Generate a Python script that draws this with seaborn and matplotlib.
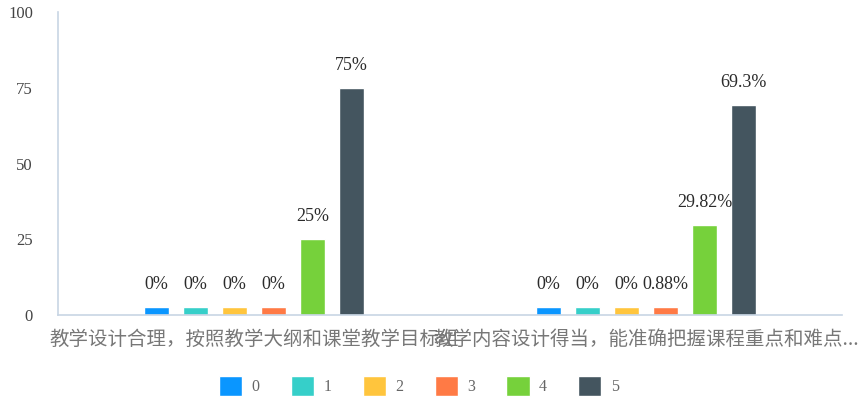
import numpy as np
import pandas as pd
import matplotlib
matplotlib.use("Agg")
import matplotlib.pyplot as plt
import seaborn as sns

categories = [
    "教学设计合理，按照教学大纲和课堂教学目标组",
    "教学内容设计得当，能准确把握课程重点和难点...",
]
series = ["0", "1", "2", "3", "4", "5"]
values_cat1 = [0, 0, 0, 0, 25, 75]
values_cat2 = [0, 0, 0, 0.88, 29.82, 69.3]
labels_cat1 = ["0%", "0%", "0%", "0%", "25%", "75%"]
labels_cat2 = ["0%", "0%", "0%", "0.88%", "29.82%", "69.3%"]
colors = ["#0a96ff", "#36cfc9", "#ffc53d", "#ff7a45", "#76d13b", "#44555f"]
y_ticks = [0, 25, 50, 75, 100]

MIN_H = 2.6  # small bars still show a stub, like the source chart

rows = []
for cat, vals, labs in [(categories[0], values_cat1, labels_cat1),
                        (categories[1], values_cat2, labels_cat2)]:
    for s, v, l in zip(series, vals, labs):
        rows.append({"cat": cat, "series": s, "value": v, "label": l})
df = pd.DataFrame(rows)
df["shown"] = df["value"].clip(lower=MIN_H)

sns.set_theme(style="white")
plt.rcParams["font.family"] = ["Liberation Serif", "Noto Sans CJK SC"]

fig = plt.figure(figsize=(8.67, 4.0), dpi=100)
ax = fig.add_axes([58 / 867, 1 - 315 / 400, (842 - 58) / 867, (315 - 12) / 400])

sns.barplot(data=df, x="cat", y="shown", hue="series", order=categories,
            hue_order=series, palette=colors, width=0.597, gap=0.36,
            saturation=1, dodge=True, legend=True, ax=ax, errorbar=None)

# value labels above the bars
for cont, s in zip(ax.containers, series):
    labs = [df[(df["cat"] == c) & (df["series"] == s)]["label"].iloc[0] for c in categories]
    ax.bar_label(cont, labels=labs, padding=10, fontsize=13, color="#2b2b2b",
                 family="Liberation Serif")

ax.set_ylim(0, 100)
ax.set_yticks(y_ticks)
ax.set_yticklabels([str(t) for t in y_ticks], fontsize=12, color="#444444",
                   family="Liberation Serif")
ax.set_xlim(-0.5, 1.5)
ax.set_xticks([0, 1])
ax.set_xticklabels(categories, fontsize=14, color="#777777",
                   family=["Noto Sans CJK SC", "DejaVu Sans"])
ax.set_xticks([-0.5, 0.5, 1.5], minor=True)
ax.tick_params(axis="x", which="major", length=0, pad=10)
ax.tick_params(axis="x", which="minor", length=5, width=1, color="#c8d5e4", direction="out")
ax.tick_params(axis="y", length=0, pad=18)

ax.set_xlabel("")
ax.set_ylabel("")
for side in ["top", "right"]:
    ax.spines[side].set_visible(False)
for side in ["left", "bottom"]:
    ax.spines[side].set_color("#c8d5e4")
    ax.spines[side].set_linewidth(1.2)
ax.grid(False)

handles, labs = ax.get_legend_handles_labels()
ax.legend_.remove()
fig.legend(handles, labs, loc="center", bbox_to_anchor=(419 / 867, 1 - 386 / 400),
           ncol=6, frameon=False, handlelength=1.45, handleheight=1.6,
           columnspacing=1.95, handletextpad=0.6,
           prop={"family": "Liberation Serif", "size": 11.5}, labelcolor="#666666")

fig.savefig("out.png", dpi=100)
